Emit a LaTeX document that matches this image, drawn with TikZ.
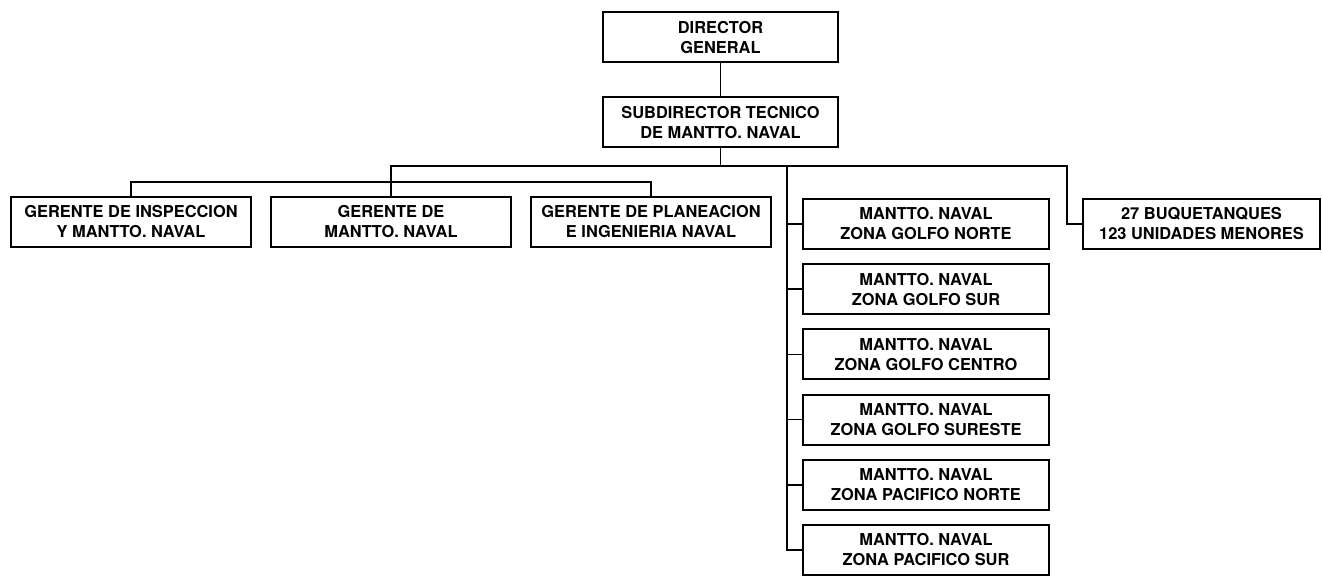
\documentclass[tikz,border=0pt]{standalone}
\usepackage{fontspec}
\setmainfont{TeX Gyre Heros}
\usetikzlibrary{positioning}

\begin{document}
\begin{tikzpicture}[x=0.5pt,y=-0.5pt]
	\tikzset{
	    box/.style={draw, line width=1pt, align=center, inner sep=2pt,
	        minimum height=25pt, font=\bfseries\fontsize{8.2}{10}\selectfont},
	    gerbox/.style={box, minimum width=120pt},
	    zonebox/.style={box, minimum width=123pt},
	    link/.style={line width=0.8pt}
	}
	\useasboundingbox (0,0) rectangle (1322,576);

	\node[box, minimum width=117.5pt] (dir) at (720.5,37.5) {DIRECTOR\\GENERAL};
	\node[box, minimum width=117.5pt, below=16.5pt of dir] (sub) {SUBDIRECTOR TECNICO\\DE MANTTO. NAVAL};

	\node[gerbox] (ger1) at (131,222) {GERENTE DE INSPECCION\\Y MANTTO. NAVAL};
	\node[gerbox, right=9pt of ger1] (ger2) {GERENTE DE\\MANTTO. NAVAL};
	\node[gerbox, right=9pt of ger2] (ger3) {GERENTE DE PLANEACION\\E INGENIERIA NAVAL};

	\node[zonebox] (z1) at (926,224) {MANTTO. NAVAL\\ZONA GOLFO NORTE};
	\node[zonebox, below=6.6pt of z1] (z2) {MANTTO. NAVAL\\ZONA GOLFO SUR};
	\node[zonebox, below=6.6pt of z2] (z3) {MANTTO. NAVAL\\ZONA GOLFO CENTRO};
	\node[zonebox, below=6.6pt of z3] (z4) {MANTTO. NAVAL\\ZONA GOLFO SURESTE};
	\node[zonebox, below=6.6pt of z4] (z5) {MANTTO. NAVAL\\ZONA PACIFICO NORTE};
	\node[zonebox, below=6.6pt of z5] (z6) {MANTTO. NAVAL\\ZONA PACIFICO SUR};

	\node[box, minimum width=118.5pt] (buq) at (1201.5,224) {27 BUQUETANQUES\\123 UNIDADES MENORES};

	\coordinate (corner) at (1067,166);
	\coordinate (zbus) at (787,166);
	\coordinate (gbus) at (392,182);

	\draw[link] (dir) -- (sub);
	\draw[link] (sub) -- (sub |- corner);
	\draw[link] (ger2) |- (corner) |- (buq);
	\draw[link] (ger1) |- (gbus) -| (ger3);
	\draw[link] (zbus) |- (z6);
	\foreach \z in {z1,z2,z3,z4,z5}
	    \draw[link] (zbus |- \z) -- (\z);

\end{tikzpicture}
\end{document}
